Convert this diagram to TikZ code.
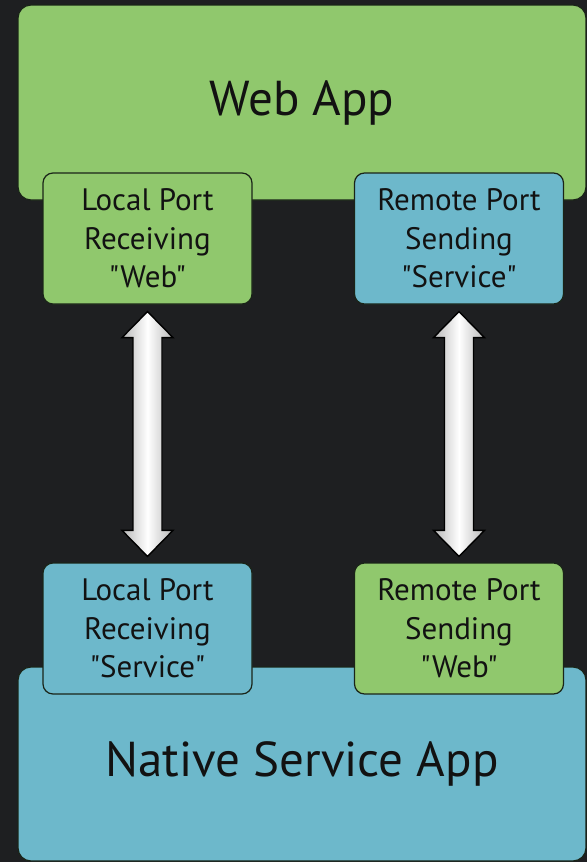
\documentclass[tikz,border=0pt]{standalone}
\usepackage{fontspec}
\newfontfamily\ptsans{PT Sans}
\usetikzlibrary{calc}
\definecolor{bg}{HTML}{1E1F21}
\definecolor{gin}{HTML}{90C86D}
\definecolor{gout}{HTML}{639446}
\definecolor{bin}{HTML}{6DB8CB}
\definecolor{bout}{HTML}{45889C}
\definecolor{edge}{HTML}{1A2418}
\definecolor{ink}{HTML}{121212}
\pgfdeclareradialshading{greenbox}{\pgfpoint{0bp}{0bp}}{color(0bp)=(gin); color(34bp)=(gin); color(50bp)=(gout!70!gin); color(72bp)=(gout)}
\pgfdeclareradialshading{bluebox}{\pgfpoint{0bp}{0bp}}{color(0bp)=(bin); color(34bp)=(bin); color(50bp)=(bout!70!bin); color(72bp)=(bout)}
\tikzset{
  box/.style={draw=edge, line width=1.2pt, text=ink, align=center, inner sep=0pt},
  green/.style={box, shading=greenbox},
  blue/.style={box, shading=bluebox},
  bigbox/.style={rounded corners=13pt, minimum width=568pt, minimum height=195pt, font=\ptsans\fontsize{49}{58}\selectfont},
  portbox/.style={rounded corners=10pt, minimum width=209pt, minimum height=131pt, font=\ptsans\fontsize{31}{38.5}\selectfont},
  dblarrow/.style={draw=black, line width=1.4pt, left color=black!28, right color=black!28, middle color=white, line join=miter}
}
\begin{document}
\begin{tikzpicture}[x=1pt, y=-1pt]
\fill[bg] (0,0) rectangle (587,862);
\useasboundingbox (0,0) rectangle (587,862);
% big boxes
\node[green, bigbox] (web) at (302,102.5) {Web App};
\node[blue, bigbox, minimum height=194pt] (native) at (302,764) {Native Service App};
% port boxes
\node[green, portbox] (lw) at (147.5,238.5) {Local Port\\Receiving\\"Web"};
\node[blue, portbox] (rs) at (459,238.5) {Remote Port\\Sending\\"Service"};
\node[blue, portbox] (ls) at (147.5,628.5) {Local Port\\Receiving\\"Service"};
\node[green, portbox] (rw) at (459,628.5) {Remote Port\\Sending\\"Web"};
% arrows
\coordinate (t1) at ($(lw.south)+(0,7)$);
\coordinate (b1) at ($(ls.north)+(0,-6)$);
\coordinate (t2) at ($(rs.south)+(0,7)$);
\coordinate (b2) at ($(rw.north)+(0,-6)$);
\foreach \t/\b in {t1/b1, t2/b2}{
  \draw[dblarrow] (\t) -- ($(\t)+(25.5,26)$) -- ($(\t)+(14.5,26)$) -- ($(\b)+(14.5,-26)$) -- ($(\b)+(25.5,-26)$) -- (\b)
    -- ($(\b)+(-25.5,-26)$) -- ($(\b)+(-14.5,-26)$) -- ($(\t)+(-14.5,26)$) -- ($(\t)+(-25.5,26)$) -- cycle;
}
\end{tikzpicture}
\end{document}
